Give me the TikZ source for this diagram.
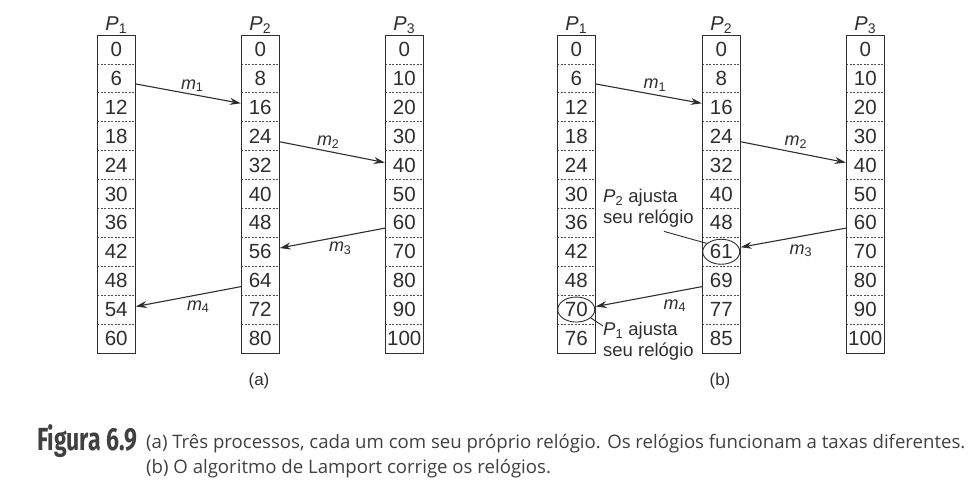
\documentclass[tikz,border=0pt]{standalone}
\usepackage{fontspec}
\setmainfont{Liberation Sans}
\newfontfamily\capfont{Open Sans}
\newfontfamily\figfont[FakeStretch=0.72]{Fira Sans}
\usepackage{xcolor}
\usetikzlibrary{arrows.meta}
\usetikzlibrary{shapes.geometric}
\definecolor{inkcolor}{HTML}{2E2E2E}
\definecolor{capcolor}{HTML}{404040}

\tikzset{
  cell/.style={minimum width=38.5pt,minimum height=28.9pt,inner sep=0pt,text=inkcolor,font=\fontsize{20.5}{20.5}\selectfont},
  plabel/.style={anchor=base,inner sep=0pt,text=inkcolor,font=\fontsize{20}{20}\selectfont},
  tick/.style={inkcolor!85,line width=0.7pt,dash pattern=on 2pt off 1.5pt},
  msg/.style={inkcolor,line width=1.1pt,-{Stealth[length=11pt,width=7pt]}},
  mlabel/.style={inner sep=0pt,text=inkcolor,font=\fontsize{18}{18}\selectfont},
  note/.style={anchor=north west,align=left,inner sep=0pt,text=inkcolor,font=\fontsize{18.5}{21}\selectfont},
  ring/.style={draw=inkcolor,line width=0.9pt,ellipse,minimum width=37pt,minimum height=25pt,inner sep=0pt},
  pointer/.style={inkcolor,line width=0.9pt},
  sublabel/.style={inner sep=0pt,text=inkcolor,font=\fontsize{17}{17}\selectfont},
  capline/.style={anchor=base west,inner sep=0pt,text=capcolor,font=\capfont\fontsize{18.6}{18.6}\selectfont}
}

\begin{document}
\begin{tikzpicture}[x=1pt,y=-1pt]
\useasboundingbox (0,0) rectangle (980,496);

\foreach \c/\xl/\n/\vals in {a1/97/1/{0,6,...,60}, a2/241/2/{0,8,...,80}, a3/385/3/{0,10,...,100},
    b1/557/1/{0,6,12,18,24,30,36,42,48,70,76}, b2/702/2/{0,8,16,24,32,40,48,61,69,77,85}, b3/846/3/{0,10,...,100}}
{
  \node[plabel] (\c-name) at (\xl+19.25,30) {\textit{P}\textsubscript{\n}};
  \foreach \v [count=\i from 0] in \vals
    \node[cell] (\c-\i) at (\xl+19.25,49.45+28.9*\i) {\v};
  \foreach \i in {1,...,10}
    \draw[tick] (\xl,35+28.9*\i) -- ++(38.5,0);
  \draw[inkcolor,line width=1pt] (\xl,35) rectangle ++(38.5,318);
}

\draw[msg] ([yshift=-5.6pt]a1-1.east) -- ([yshift=3.9pt]a2-2.west) node[mlabel,midway,xshift=4pt,yshift=8pt] {\textit{m}\textsubscript{1}};
\draw[msg] ([yshift=-5.6pt]a2-3.east) -- ([yshift=2.5pt]a3-4.west) node[mlabel,midway,xshift=-4pt,yshift=10pt] {\textit{m}\textsubscript{2}};
\draw[msg] ([yshift=-5.3pt]a3-6.west) -- ([yshift=3.7pt]a2-7.east) node[mlabel,midway,xshift=8pt,yshift=-10pt] {\textit{m}\textsubscript{3}};
\draw[msg] ([yshift=-6pt]a2-8.west) -- ([yshift=3pt]a1-9.east) node[mlabel,midway,xshift=10pt,yshift=-10pt] {\textit{m}\textsubscript{4}};

\node[ring] (e61) at (b2-7) {};
\node[ring] (e70) at (b1-9) {};

\draw[msg] ([yshift=-5.6pt]b1-1.east) -- ([yshift=3.9pt]b2-2.west) node[mlabel,midway,xshift=6pt,yshift=8.5pt] {\textit{m}\textsubscript{1}};
\draw[msg] ([yshift=-5.6pt]b2-3.east) -- ([yshift=2.5pt]b3-4.west) node[mlabel,midway,xshift=2.5pt,yshift=10pt] {\textit{m}\textsubscript{2}};
\draw[msg] ([yshift=-5.3pt]b3-6.west) -- ([yshift=4.5pt]b2-7.east) node[mlabel,midway,xshift=7.5pt,yshift=-13pt] {\textit{m}\textsubscript{3}};
\draw[msg] ([yshift=-6pt]b2-8.west) -- ([yshift=3pt]b1-9.east) node[mlabel,midway,xshift=26pt,yshift=-9pt] {\textit{m}\textsubscript{4}};

\node[note] (t2) at (603,188.7) {\textit{P}\textsubscript{2} ajusta\\seu relógio};
\node[note] (t1) at (603,321.7) {\textit{P}\textsubscript{1} ajusta\\seu relógio};
\draw[pointer] ([xshift=-30pt,yshift=-4pt]t2.south east) -- (e61.150);
\draw[pointer] (e70.-30) -- ([yshift=-4.3pt]t1.north west);

\node[sublabel] (caption-a) at (259,381) {(a)};
\node[sublabel] (caption-b) at (720,381) {(b)};

\node[anchor=base west,inner sep=0pt,text=capcolor,font=\figfont\bfseries\fontsize{32}{32}\selectfont] (fig) at (37,450) {Figura 6.9};
\node[capline] (cap-1) at (146,448) {(a) Três processos, cada um com seu próprio relógio. Os relógios funcionam a taxas diferentes.};
\node[capline] (cap-2) at (146,473) {(b) O algoritmo de Lamport corrige os relógios.};
\end{tikzpicture}
\end{document}
